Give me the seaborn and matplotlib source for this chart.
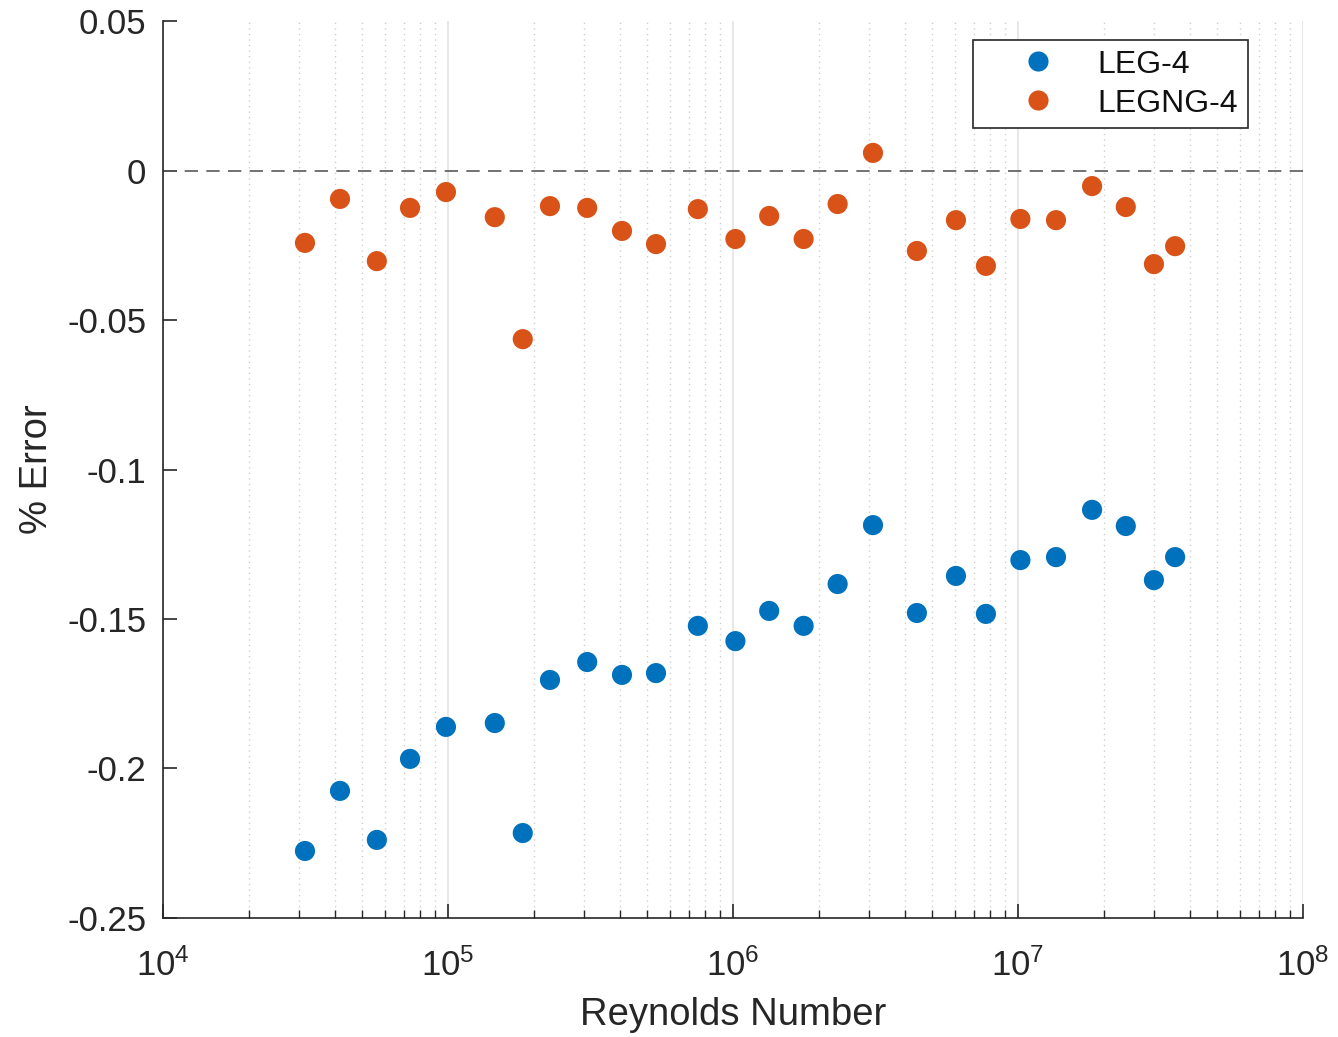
import numpy as np
import pandas as pd
import matplotlib
matplotlib.use("Agg")
import matplotlib.pyplot as plt
from matplotlib.ticker import LogLocator, NullFormatter, FixedLocator
import seaborn as sns

reynolds = [3.15e4, 4.18e4, 5.63e4, 7.36e4, 9.84e4, 1.46e5, 1.83e5, 2.28e5,
            3.08e5, 4.08e5, 5.37e5, 7.53e5, 1.02e6, 1.34e6, 1.77e6, 2.33e6,
            3.10e6, 4.42e6, 6.06e6, 7.72e6, 1.02e7, 1.36e7, 1.82e7, 2.39e7,
            3.00e7, 3.56e7]
leg4_error = [-0.2276, -0.2075, -0.2239, -0.1968, -0.1861, -0.1848, -0.2216,
              -0.1704, -0.1644, -0.1687, -0.1681, -0.1523, -0.1574, -0.1473,
              -0.1523, -0.1383, -0.1186, -0.1480, -0.1356, -0.1483, -0.1303,
              -0.1293, -0.1135, -0.1189, -0.1370, -0.1293]
legng4_error = [-0.0242, -0.0095, -0.0303, -0.0125, -0.0072, -0.0156, -0.0564,
                -0.0119, -0.0125, -0.0202, -0.0246, -0.0129, -0.0229, -0.0152,
                -0.0229, -0.0112, 0.0059, -0.0269, -0.0166, -0.0319, -0.0162,
                -0.0166, -0.0052, -0.0122, -0.0313, -0.0253]
series_names = ["LEG-4", "LEGNG-4"]
series_colors = ["#0072BD", "#D95319"]
y_ticks = [-0.25, -0.2, -0.15, -0.1, -0.05, 0, 0.05]
y_tick_labels = ["-0.25", "-0.2", "-0.15", "-0.1", "-0.05", "0", "0.05"]

df = pd.DataFrame({
    "Re": reynolds * 2,
    "err": leg4_error + legng4_error,
    "series": [series_names[0]] * len(reynolds) + [series_names[1]] * len(reynolds),
})

sns.set_style("white")
plt.rcParams["font.family"] = ["Liberation Sans", "DejaVu Sans"]
plt.rcParams["mathtext.fontset"] = "custom"
plt.rcParams["mathtext.rm"] = "Liberation Sans"
plt.rcParams["mathtext.it"] = "Liberation Sans:italic"
text_color = "#262626"

fig = plt.figure(figsize=(13.38, 10.37), dpi=100)
ax = fig.add_axes([0.1218, 0.1148, 0.852, 0.8649])

ax.set_xscale("log")
ax.set_xlim(1e4, 1e8)
ax.set_ylim(-0.25, 0.05)

# vertical grid: solid major, dotted minor
ax.xaxis.set_major_locator(LogLocator(base=10, numticks=10))
ax.xaxis.set_minor_locator(LogLocator(base=10, subs=np.arange(2, 10), numticks=20))
ax.xaxis.set_minor_formatter(NullFormatter())
ax.grid(True, which="major", axis="x", color="#e3e3e3", linewidth=1.2, linestyle="-")
ax.grid(True, which="minor", axis="x", color="#cfcfcf", linewidth=1.0, linestyle=(0, (1, 3)))
ax.grid(False, axis="y")
ax.set_axisbelow(True)

ax.axhline(0, color="#5a5a5a", linestyle=(0, (8, 5)), linewidth=1.2, zorder=1)

sns.scatterplot(data=df, x="Re", y="err", hue="series", hue_order=series_names,
                palette=series_colors, s=210, linewidth=0, ax=ax, zorder=3,
                legend=True)

ax.yaxis.set_major_locator(FixedLocator(y_ticks))
ax.set_yticklabels(y_tick_labels)

for side in ["top", "right"]:
    ax.spines[side].set_visible(False)
for side in ["left", "bottom"]:
    ax.spines[side].set_color("#262626")
    ax.spines[side].set_linewidth(1.2)

ax.tick_params(axis="both", which="major", direction="in", length=10, width=1.2,
               colors="#262626", labelsize=25, labelcolor=text_color,
               bottom=True, left=True)
ax.tick_params(axis="x", which="minor", direction="in", length=6, width=1.0,
               colors="#262626", bottom=True)
ax.tick_params(axis="x", which="major", pad=22)
ax.tick_params(axis="y", which="major", pad=12)

ax.set_xlabel("Reynolds Number", fontsize=27.5, color=text_color, labelpad=10)
ax.set_ylabel("% Error", fontsize=27.5, color=text_color, labelpad=9)

handles, labels = ax.get_legend_handles_labels()
leg = ax.legend(handles, labels, loc="upper right", bbox_to_anchor=(0.9518, 0.9788),
                borderaxespad=0, fontsize=23, frameon=True, fancybox=False,
                edgecolor="#262626", handletextpad=0.15, borderpad=0.3,
                labelspacing=0.28, markerscale=1.0, handlelength=3.45,
                framealpha=1)
leg.get_frame().set_linewidth(1.2)
for t in leg.get_texts():
    t.set_color("#111111")

fig.savefig("out.png", dpi=100, facecolor="white")
